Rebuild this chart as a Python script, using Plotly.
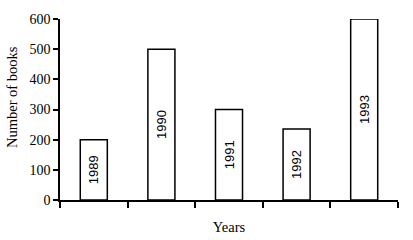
import plotly.graph_objects as go

years = ["1989", "1990", "1991", "1992", "1993"]
books = [200, 500, 300, 235, 600]
y_ticks = [0, 100, 200, 300, 400, 500, 600]

xpos = list(range(len(years)))
boundaries = [i - 0.5 for i in range(len(years) + 1)]

fig = go.Figure()
fig.add_trace(go.Bar(
    x=xpos, y=books, width=0.4,
    marker=dict(color="white", line=dict(color="black", width=1.5)),
    text=years, textposition="inside", insidetextanchor="middle",
    textangle=-90,
    textfont=dict(family="Liberation Sans", size=13, color="black"),
    cliponaxis=False,
))

fig.update_layout(
    width=413, height=240,
    margin=dict(l=60, r=15, t=12, b=40),
    paper_bgcolor="white", plot_bgcolor="white",
    showlegend=False,
    font=dict(family="Liberation Serif", size=14, color="black"),
    annotations=[dict(
        text="Number of books", textangle=-90,
        xref="paper", yref="paper", x=-0.142, y=0.569,
        xanchor="center", yanchor="middle", showarrow=False,
        font=dict(family="Liberation Serif", size=14.5, color="black"),
    )],
)
fig.update_xaxes(
    range=[-0.5, 4.5], tickvals=boundaries, ticktext=[""] * len(boundaries),
    ticks="outside", ticklen=6, tickwidth=1.5, tickcolor="black",
    showline=True, linecolor="black", linewidth=1.5,
    showgrid=False, zeroline=False,
    title=dict(text="Years", font=dict(family="Liberation Serif", size=14.5), standoff=12),
)
fig.update_yaxes(
    range=[0, 600], tickvals=y_ticks,
    ticks="outside", ticklen=5, tickwidth=1.5, tickcolor="black",
    showline=True, linecolor="black", linewidth=1.5,
    showgrid=False, zeroline=False,
    tickfont=dict(family="Liberation Serif", size=14),
)
fig.write_html("out.html")
